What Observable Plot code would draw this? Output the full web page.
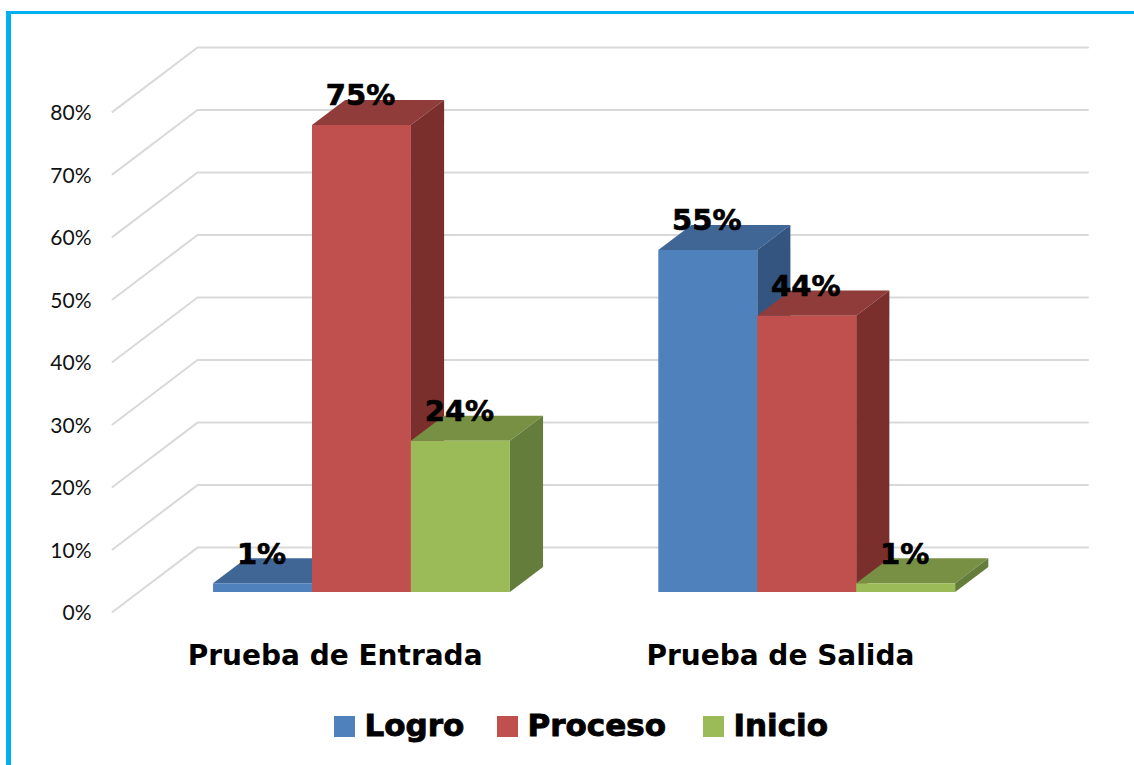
<!DOCTYPE html>
<html><head><meta charset="utf-8">
<script src="https://cdn.jsdelivr.net/npm/d3@7"></script>
<script src="https://cdn.jsdelivr.net/npm/@observablehq/plot@0.6"></script>
<style>
html,body{margin:0;padding:0;background:#fff;overflow:hidden;width:1134px;height:765px}
#frame{position:absolute;left:6px;top:11px;right:0;bottom:0;border-left:5.5px solid #00b0f0;border-top:3px solid #00b0f0;pointer-events:none}
#chart{position:absolute;left:0;top:0}
#legend{position:absolute;left:334px;top:703px;display:flex;align-items:center;font:bold 31px "DejaVu Sans";color:#000;line-height:44px;-webkit-text-stroke:0.9px #000}
#legend span.s{width:21px;height:21px;display:inline-block;margin-right:9.5px;margin-top:3px;flex:none}
#legend div{display:flex;align-items:center}
</style></head><body>
<div id="frame"></div><div id="chart"></div><div id="legend"></div>
<script>
const categories = ["Prueba de Entrada", "Prueba de Salida"];
const seriesNames = ["Logro", "Proceso", "Inicio"];
const logro   = [1.4, 54.7];
const proceso = [74.7, 44.2];
const inicio  = [24.2, 1.4];
const seriesValues = [logro, proceso, inicio];
const labelLogro = ["1%", "55%"], labelProceso = ["75%", "44%"], labelInicio = ["24%", "1%"];
const seriesLabels = [labelLogro, labelProceso, labelInicio];
const yTicks = [0, 10, 20, 30, 40, 50, 60, 70, 80];
const frontColors = ["#4f81bd", "#c0504d", "#9bbb59"];
const topColors   = ["#3f6695", "#8f3c3a", "#789044"];
const sideColors  = ["#34557f", "#7a2f2d", "#657d3b"];
const legendWidths = [163, 206, 140];

// Oblique 3D projection, expressed in data units
const depthX = 0.859, depthY = 10.3;        // shift of the back wall
const barNear = 0.31, barFar = 0.70;        // bar depth span
const catWidth = 4.5, gap = 0.75;           // category width, side gap (bar = 1)
const xMax = 2 * catWidth + depthX, yMax = 80 + depthY;
const P = (x, v, d) => ({x: x + d * depthX, y: v + d * depthY});

const gridLines = yTicks.flatMap(v => [
  {id: v, ...P(0, v, 0)}, {id: v, ...P(0, v, 1)}, {id: v, ...P(2 * catWidth, v, 1)}
]);

const faces = [], labels = [];
categories.forEach((c, g) => seriesNames.forEach((s, i) => {
  const v = seriesValues[i][g], x0 = g * catWidth + gap + i, x1 = x0 + 1;
  const poly = (id, color, pts) => pts.forEach(p => faces.push({id, color, ...p}));
  poly(`t${g}${i}`, topColors[i], [P(x0, v, barNear), P(x1, v, barNear), P(x1, v, barFar), P(x0, v, barFar)]);
  poly(`s${g}${i}`, sideColors[i], [P(x1, 0, barNear), P(x1, v, barNear), P(x1, v, barFar), P(x1, 0, barFar)]);
  poly(`f${g}${i}`, frontColors[i], [P(x0, 0, barNear), P(x1, 0, barNear), P(x1, v, barNear), P(x0, v, barNear)]);
  labels.push({text: seriesLabels[i][g], ...P((x0 + x1) / 2, v, barNear)});
}));

const plot = Plot.plot({
  width: 1134, height: 700,
  marginLeft: 112, marginRight: 46.5, marginTop: 47, marginBottom: 88.5,
  style: {background: "transparent", overflow: "visible"},
  x: {domain: [0, xMax], axis: null},
  y: {domain: [0, yMax], axis: null},
  marks: [
    Plot.axisY({ticks: yTicks, tickFormat: d => d + "%", tickSize: 0, tickPadding: 21, label: null, dy: 1.5,
      fontSize: 21, fontFamily: "Lato", fill: "#111"}),
    Plot.axisX({ticks: [catWidth / 2, catWidth * 1.5], tickFormat: d => categories[d > catWidth ? 1 : 0],
      tickSize: 0, tickPadding: 33, label: null, fontSize: 28, fontWeight: "bold", fontFamily: "DejaVu Sans",
      fill: "#000", stroke: "#000", strokeWidth: 0.9}),
    Plot.line(gridLines, {x: "x", y: "y", z: "id", stroke: "#d9d9d9", strokeWidth: 2, curve: "linear"}),
    Plot.line(faces, {x: "x", y: "y", z: "id", fill: "color", stroke: "none", curve: "linear"}),
    Plot.text(labels, {x: "x", y: "y", text: "text", dy: -29, dx: -1, lineAnchor: "middle", fontSize: 29,
      fontWeight: "bold", fontFamily: "DejaVu Sans", fill: "#000", stroke: "#000", strokeWidth: 0.7})
  ]
});
document.getElementById("chart").append(plot);

const lg = document.getElementById("legend");
seriesNames.forEach((s, i) => {
  const item = document.createElement("div");
  item.style.width = legendWidths[i] + "px";
  const sw = document.createElement("span"); sw.className = "s"; sw.style.background = frontColors[i];
  item.append(sw, document.createTextNode(s));
  lg.append(item);
});
</script></body></html>
